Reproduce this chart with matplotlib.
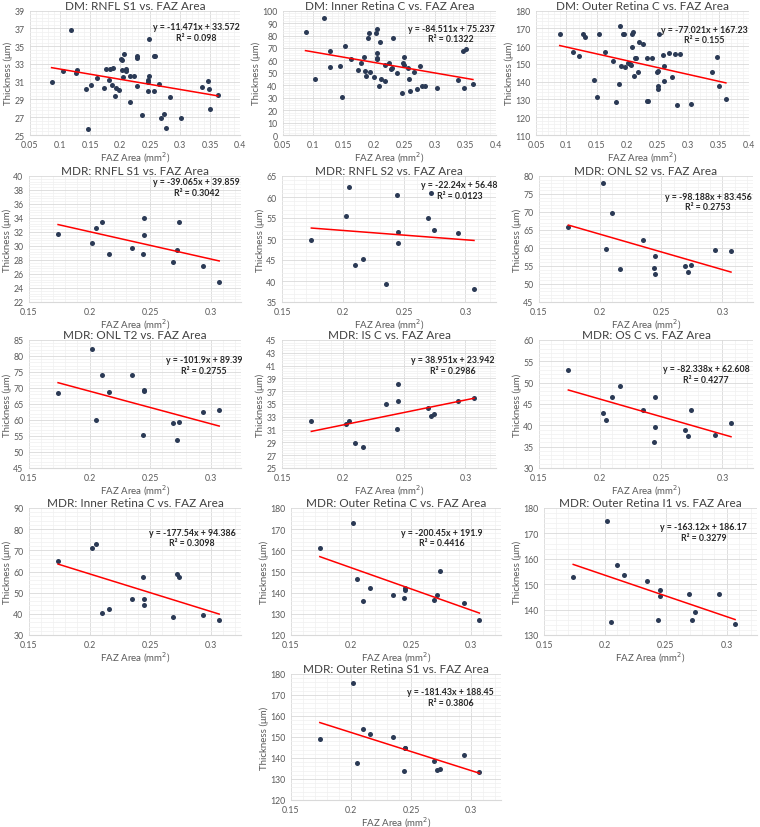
import matplotlib
matplotlib.use('Agg')
import matplotlib.pyplot as plt
from matplotlib.ticker import MultipleLocator, AutoMinorLocator, FuncFormatter
import numpy as np

plt.rcParams['font.family'] = ['Lato', 'DejaVu Sans']

# ---- DM panels (x = FAZ area, y = thickness) ----
dm_rnfl_s1_x = [0.086, 0.105, 0.118, 0.126, 0.128, 0.143, 0.147, 0.151, 0.161, 0.173, 0.177, 0.182,
                0.184, 0.186, 0.189, 0.191, 0.194, 0.198, 0.202, 0.203, 0.204, 0.205, 0.207, 0.210,
                0.210, 0.217, 0.216, 0.224, 0.228, 0.229, 0.229, 0.237, 0.246, 0.247, 0.248, 0.247,
                0.249, 0.256, 0.257, 0.259, 0.265, 0.269, 0.274, 0.277, 0.284, 0.302, 0.337, 0.347,
                0.348, 0.350, 0.363]
dm_rnfl_s1_y = [31.0, 32.2, 36.8, 32.0, 32.3, 30.2, 25.7, 30.6, 31.4, 30.3, 32.4, 31.2,
                32.4, 30.6, 32.6, 29.4, 30.3, 30.1, 33.6, 33.4, 32.3, 31.5, 34.1, 32.4,
                32.2, 31.6, 28.7, 31.6, 30.5, 33.9, 33.7, 27.3, 30.0, 31.2, 31.6, 31.0,
                35.8, 33.9, 29.9, 33.9, 30.8, 26.9, 27.4, 25.8, 29.3, 26.9, 30.4, 31.1,
                30.2, 27.9, 29.5]

dm_inner_c_x = [0.087, 0.103, 0.117, 0.127, 0.128, 0.144, 0.147, 0.152, 0.161, 0.174, 0.178, 0.183,
                0.185, 0.186, 0.190, 0.191, 0.193, 0.200, 0.202, 0.204, 0.205, 0.205, 0.205, 0.207,
                0.210, 0.211, 0.217, 0.218, 0.224, 0.228, 0.229, 0.230, 0.237, 0.246, 0.247, 0.249,
                0.249, 0.256, 0.257, 0.258, 0.266, 0.270, 0.275, 0.279, 0.284, 0.303, 0.337, 0.345,
                0.348, 0.350, 0.362]
dm_inner_c_y = [82.7, 45.3, 93.9, 67.5, 54.9, 55.5, 30.4, 71.5, 61.3, 52.3, 58.1, 62.9,
                51.7, 47.5, 77.9, 82.4, 50.9, 46.7, 81.9, 61.3, 66.1, 61.9, 85.3, 39.5,
                74.9, 45.1, 43.5, 56.3, 58.1, 52.8, 54.1, 77.9, 50.1, 34.1, 57.9, 56.5,
                62.9, 53.6, 45.3, 35.7, 50.9, 36.8, 55.2, 39.5, 39.5, 37.9, 44.3, 67.2,
                37.6, 69.3, 40.8]

dm_outer_c_x = [0.089, 0.110, 0.121, 0.128, 0.130, 0.146, 0.151, 0.154, 0.164, 0.176, 0.181, 0.186,
                0.188, 0.189, 0.193, 0.195, 0.196, 0.201, 0.204, 0.206, 0.207, 0.207, 0.209, 0.211,
                0.2125, 0.214, 0.218, 0.220, 0.225, 0.232, 0.233, 0.234, 0.240, 0.249, 0.250, 0.251,
                0.250, 0.252, 0.259, 0.260, 0.261, 0.268, 0.273, 0.278, 0.282, 0.287, 0.305, 0.340,
                0.348, 0.351, 0.362]
dm_outer_c_y = [166.9, 156.7, 154.4, 166.6, 165.3, 140.8, 131.5, 166.6, 156.7, 151.6, 128.7, 138.6,
                171.2, 148.8, 166.6, 167.1, 148.5, 150.7, 149.8, 149.2, 159.3, 167.1, 168.2, 143.2,
                153.3, 153.5, 145.7, 162.3, 161.5, 153.3, 129.4, 129.0, 153.3, 145.5, 145.8, 137.6,
                136.1, 166.9, 155.0, 148.8, 140.6, 155.9, 142.5, 155.5, 126.8, 155.5, 127.7, 145.5,
                153.9, 137.4, 130.2]

# ---- MDR panels: all share the same FAZ area values ----
mdr_faz = [0.174, 0.202, 0.205, 0.210, 0.216, 0.235, 0.244, 0.245, 0.245, 0.269, 0.272, 0.274, 0.294, 0.307]
mdr_rnfl_s1 = [31.7, 30.4, 32.6, 33.4, 28.9, 29.7, 28.9, 34.0, 31.6, 27.7, 29.5, 33.5, 27.2, 24.9]
mdr_rnfl_s2 = [49.7, 55.5, 62.5, 43.8, 45.3, 39.3, 60.5, 51.6, 49.0, 55.1, 61.0, 52.1, 51.5, 38.0]
mdr_onl_s2 = [65.8, 78.0, 59.7, 69.7, 54.3, 62.3, 54.4, 57.8, 52.7, 55.0, 53.3, 55.3, 59.4, 59.3]
mdr_onl_t2 = [68.3, 82.2, 60.0, 74.0, 68.8, 74.0, 55.3, 69.4, 69.0, 59.0, 53.8, 59.3, 62.5, 63.2]
mdr_is_c = [32.4, 31.9, 32.3, 28.9, 28.3, 35.0, 31.1, 38.2, 35.4, 34.4, 33.2, 33.5, 35.5, 35.9]
mdr_os_c = [52.9, 42.8, 41.2, 46.6, 49.3, 43.6, 36.1, 46.6, 39.7, 38.8, 37.6, 43.6, 37.8, 40.6]
mdr_inner_c = [64.8, 71.0, 73.0, 40.5, 42.4, 47.1, 57.4, 47.0, 44.4, 38.3, 59.0, 57.6, 39.5, 37.3]
mdr_outer_c = [160.9, 172.8, 146.5, 136.0, 142.4, 138.8, 137.7, 142.0, 141.4, 136.5, 139.0, 150.4, 135.2, 127.1]
mdr_outer_i1 = [152.8, 174.7, 135.3, 157.5, 153.6, 151.2, 136.1, 147.9, 145.5, 146.0, 135.8, 139.0, 146.0, 134.3]
mdr_outer_s1 = [149.0, 175.6, 137.8, 153.7, 151.4, 150.0, 133.7, 145.0, 144.6, 138.6, 134.1, 134.8, 141.6, 133.4]

# printed trendline equations: slope, intercept, R^2
titles = ['DM: RNFL S1 vs. FAZ Area', 'DM: Inner Retina C vs. FAZ Area', 'DM: Outer Retina C vs. FAZ Area',
          'MDR: RNFL S1 vs. FAZ Area', 'MDR: RNFL S2 vs. FAZ Area', 'MDR: ONL S2 vs. FAZ Area',
          'MDR: ONL T2 vs. FAZ Area', 'MDR: IS C vs. FAZ Area', 'MDR: OS C vs. FAZ Area',
          'MDR: Inner Retina C vs. FAZ Area', 'MDR: Outer Retina C vs. FAZ Area', 'MDR: Outer Retina I1 vs. FAZ Area',
          'MDR: Outer Retina S1 vs. FAZ Area']
slopes = [-11.471, -84.511, -77.021, -39.065, -22.24, -98.188, -101.9, 38.951, -82.338,
          -177.54, -200.45, -163.12, -181.43]
intercepts = [33.572, 75.237, 167.23, 39.859, 56.48, 83.456, 89.39, 23.942, 62.608,
              94.386, 191.9, 186.17, 188.45]
r2_labels = ['0.098', '0.1322', '0.155', '0.3042', '0.0123', '0.2753', '0.2755', '0.2986', '0.4277',
             '0.3098', '0.4416', '0.3279', '0.3806']
eq_labels = ['-11.471x + 33.572', '-84.511x + 75.237', '-77.021x + 167.23', '-39.065x + 39.859',
             '-22.24x + 56.48', '-98.188x + 83.456', '-101.9x + 89.39', '38.951x + 23.942',
             '-82.338x + 62.608', '-177.54x + 94.386', '-200.45x + 191.9', '-163.12x + 186.17',
             '-181.43x + 188.45']
y_limits = [(25, 39), (0, 100), (110, 180), (22, 40), (35, 65), (45, 80), (45, 85), (25, 45), (30, 60),
            (30, 90), (120, 180), (130, 180), (120, 180)]
y_steps = [2, 10, 10, 2, 5, 5, 5, 2, 5, 10, 10, 10, 10]

panels_x = [dm_rnfl_s1_x, dm_inner_c_x, dm_outer_c_x] + [mdr_faz] * 10
panels_y = [dm_rnfl_s1_y, dm_inner_c_y, dm_outer_c_y, mdr_rnfl_s1, mdr_rnfl_s2, mdr_onl_s2,
            mdr_onl_t2, mdr_is_c, mdr_os_c, mdr_inner_c, mdr_outer_c, mdr_outer_i1, mdr_outer_s1]

# layout in pixels: (left, top, right, bottom) of plot area, and equation position (axes fraction)
W, H = 760, 828
boxes = [(30, 11.7, 240, 136), (283, 11.7, 496, 136), (536, 11.7, 749, 136),
         (29, 177, 241, 303), (282, 177, 496, 303), (539, 177, 753, 303),
         (29, 341, 241, 469), (282, 341, 496, 469), (539, 341, 753, 469),
         (29, 509, 241, 636), (291, 509, 501, 636), (544, 509, 757, 636),
         (291, 675, 501, 801)]
eq_pos = [(0.79, 0.87), (0.79, 0.86), (0.79, 0.85), (0.79, 0.955), (0.83, 0.93), (0.79, 0.84),
          (0.825, 0.85), (0.80, 0.85), (0.78, 0.78), (0.77, 0.81), (0.72, 0.81), (0.75, 0.855),
          (0.76, 0.86)]

navy = '#2B3A55'
grid_major = '#D9D9D9'
grid_minor = '#F0F0F0'
txt = '#595959'

fig = plt.figure(figsize=(W / 100, H / 100), dpi=100)

for i in range(13):
    l, t, r, b = boxes[i]
    ax = fig.add_axes([l / W, 1 - b / H, (r - l) / W, (b - t) / H])
    x = np.array(panels_x[i])
    y = np.array(panels_y[i])

    if i < 3:
        ax.set_xlim(0.05, 0.4)
        ax.set_xticks(np.arange(0.05, 0.401, 0.05))
    else:
        ax.set_xlim(0.15, 0.325)
        ax.set_xticks([0.15, 0.2, 0.25, 0.3])
    ax.xaxis.set_minor_locator(MultipleLocator(0.01))
    lo, hi = y_limits[i]
    ax.set_ylim(lo, hi)
    ax.set_yticks(np.arange(lo, hi + 0.01, y_steps[i]))
    ax.yaxis.set_minor_locator(AutoMinorLocator(5))
    ax.xaxis.set_major_formatter(FuncFormatter(lambda v, p: f'{round(v, 3):g}'))

    ax.grid(True, which='major', color=grid_major, lw=0.6)
    ax.grid(True, which='minor', color=grid_minor, lw=0.5)
    ax.set_axisbelow(True)
    for s in ['top', 'right', 'left']:
        ax.spines[s].set_visible(False)
    ax.spines['bottom'].set_color(grid_major)
    ax.spines['bottom'].set_linewidth(0.8)
    ax.tick_params(which='both', length=0, labelsize=6.3, labelcolor=txt)
    ax.tick_params(axis='x', pad=3.5)
    ax.tick_params(axis='y', pad=4)

    ax.scatter(x, y, s=13, color=navy, zorder=3, linewidths=0)
    xs = np.array([x.min(), x.max()])
    ax.plot(xs, slopes[i] * xs + intercepts[i], color='#FF0000', lw=1.1, zorder=4)

    ex, ey = eq_pos[i]
    ax.text(ex, ey, 'y = ' + eq_labels[i], transform=ax.transAxes, ha='center', va='center',
            fontsize=6.3, fontweight='bold', color='#262626')
    ax.text(ex, ey - 0.085, 'R² = ' + r2_labels[i], transform=ax.transAxes, ha='center', va='center',
            fontsize=6.3, fontweight='bold', color='#262626')

    ax.set_title(titles[i], fontsize=8.5, color='#404040', pad=1)
    ax.set_xlabel('FAZ Area (mm$^2$)', fontsize=7, color=txt, labelpad=0)
    ax.set_ylabel('Thickness (μm)', fontsize=7, color=txt, labelpad=1)

fig.savefig('out.png', dpi=100, facecolor='white')
